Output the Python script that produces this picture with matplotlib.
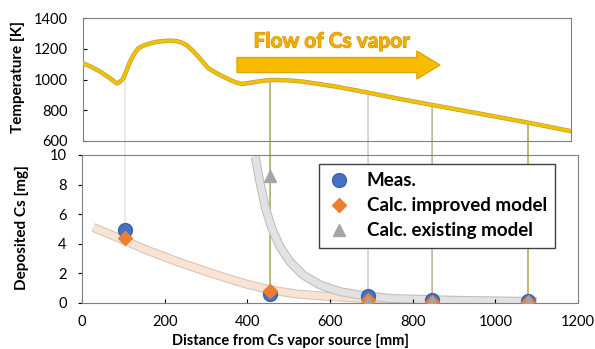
import numpy as np
import matplotlib
matplotlib.use("Agg")
import matplotlib.pyplot as plt
import matplotlib.patheffects as pe
from matplotlib.patches import FancyArrow, ConnectionPatch

plt.rcParams['font.family'] = ['Lato', 'DejaVu Sans']

# temperature profile along the tube
temp_x = [3, 24, 44, 64, 84, 92, 100, 108, 116, 126, 136, 150, 165, 181, 197, 213, 229,
          241, 253, 265, 278, 292, 306, 320, 334, 358, 372, 386, 400, 423, 455, 495,
          535, 616, 693, 770, 848, 964, 1080, 1181]
temp_y = [1105, 1080, 1051, 1015, 975, 985, 1008, 1060, 1116, 1165, 1203, 1222, 1235,
          1245, 1250, 1253, 1250, 1240, 1224, 1195, 1159, 1115, 1073, 1050, 1029, 997,
          982, 971, 976, 986, 997, 995, 986, 953, 914, 873, 834, 777, 719, 665]

# deposition positions and amounts
pos_x = [104, 455, 692, 847, 1079]
meas = [4.93, 0.61, 0.5, 0.22, 0.15]
calc_improved = [4.37, 0.83, 0.2, 0.1, 0.05]
calc_existing = [np.nan, 8.58, 0.1, 0.1, 0.05]  # first one is off scale

# hand-drawn trend bands
band_improved_x = [27, 100, 156, 237, 318, 398, 455, 519, 600, 681, 800, 950, 1100]
band_improved_y = [5.11, 4.26, 3.58, 2.73, 1.96, 1.28, 0.88, 0.61, 0.43, 0.32, 0.2, 0.1, 0.06]
band_existing_x = [419, 431, 443, 459, 479, 503, 535, 576, 624, 681, 750, 900, 1100]
band_existing_y = [9.89, 8.09, 6.51, 5.05, 3.8, 2.79, 1.89, 1.22, 0.77, 0.5, 0.3, 0.18, 0.1]

guide_colors = ['#e2e2e2', '#a09a50', '#c8c8c0', '#b0aa80', '#a8a030']

W, H = 595, 349
fig = plt.figure(figsize=(W / 100, H / 100), dpi=100)
ax1 = fig.add_axes([83 / W, 1 - 141 / H, (571 - 83) / W, (141 - 18) / H])
ax2 = fig.add_axes([82 / W, 1 - 303 / H, (578 - 82) / W, (303 - 155) / H])
ax1.patch.set_visible(False)
ax2.patch.set_visible(False)

# --- top: temperature ---
ax1.plot(temp_x, temp_y, color='#f2c200', lw=2.2, zorder=3, solid_joinstyle='round',
         path_effects=[pe.Stroke(linewidth=3.2, foreground='#b8a040'), pe.Normal()])
ax1.set_xlim(2.4, 1183)
ax1.set_ylim(600, 1400)
ax1.set_yticks(range(600, 1401, 200))
ax1.set_xticks([])
ax1.tick_params(axis='y', direction='in', length=3, pad=11, labelsize=10.5)
for s in ax1.spines.values():
    s.set_color('#808080')

ax1.add_patch(FancyArrow(375, 1094, 435, 0, width=98, head_width=182, head_length=56,
                         fc='#f7bb00', ec='#e0a800', lw=1, zorder=2))
ax1.text(605, 1247, 'Flow of Cs vapor', ha='center', va='center', fontsize=15,
         fontweight='bold', color='#f0b000',
         path_effects=[pe.Stroke(linewidth=0.8, foreground='#d09000'), pe.Normal()])

# --- bottom: deposition ---
ax2.plot(band_improved_x, band_improved_y, color='#fbe3d2', lw=5, zorder=1,
         solid_capstyle='butt', solid_joinstyle='round',
         path_effects=[pe.Stroke(linewidth=6.5, foreground='#cfc6be'), pe.Normal()])
ax2.plot(band_existing_x, band_existing_y, color='#e2e2e2', lw=5, zorder=1,
         solid_capstyle='butt', solid_joinstyle='round',
         path_effects=[pe.Stroke(linewidth=6.5, foreground='#bdbdbd'), pe.Normal()])

ax2.plot(pos_x, meas, 'o', ms=10, color='#4472c4', mec='#3a62ad', ls='none',
         label='Meas.', zorder=4)
ax2.plot(pos_x, calc_improved, 'D', ms=7, color='#ed7d31', mec='#ed7d31', ls='none',
         label='Calc. improved model', zorder=5)
ax2.plot(pos_x, calc_existing, '^', ms=9, color='#a5a5a5', mec='#a5a5a5', ls='none',
         label='Calc. existing model', zorder=6)

ax2.set_xlim(0, 1200)
ax2.set_ylim(0, 10)
ax2.set_xticks(range(0, 1201, 200))
ax2.set_yticks(range(0, 11, 2))
ax2.tick_params(axis='x', direction='in', length=3, pad=9, labelsize=10.5)
ax2.tick_params(axis='y', direction='out', length=3, pad=8, labelsize=10.5)
for s in ax2.spines.values():
    s.set_color('#808080')

# guide lines from the temperature curve down to each sample
for x, m, c in zip(pos_x, meas, guide_colors):
    t = np.interp(x, temp_x, temp_y)
    con = ConnectionPatch(xyA=(x, t), coordsA='data', axesA=ax1,
                          xyB=(x, m), coordsB='data', axesB=ax2,
                          color=c, lw=1, zorder=-1)
    fig.add_artist(con)

leg = ax2.legend(loc='upper left', bbox_to_anchor=(319 / W, 1 - 164 / H),
                 bbox_transform=fig.transFigure, frameon=True, fancybox=False,
                 edgecolor='#404040', framealpha=1, prop={'weight': 'bold', 'size': 13.5},
                 handlelength=1.2, handletextpad=0.9, borderpad=0.45, labelspacing=0.42,
                 borderaxespad=0)
leg.get_frame().set_linewidth(1)

fig.text(18 / W, 1 - 77 / H, 'Temperature [K]', rotation=90, ha='center', va='center',
         fontsize=11, fontweight='bold')
fig.text(22 / W, 1 - 228 / H, 'Deposited Cs [mg]', rotation=90, ha='center', va='center',
         fontsize=11, fontweight='bold')
fig.text(290 / W, 1 - 341 / H, 'Distance from Cs vapor source [mm]', ha='center',
         va='center', fontsize=10.5, fontweight='bold')

fig.savefig('out.png', dpi=100)
